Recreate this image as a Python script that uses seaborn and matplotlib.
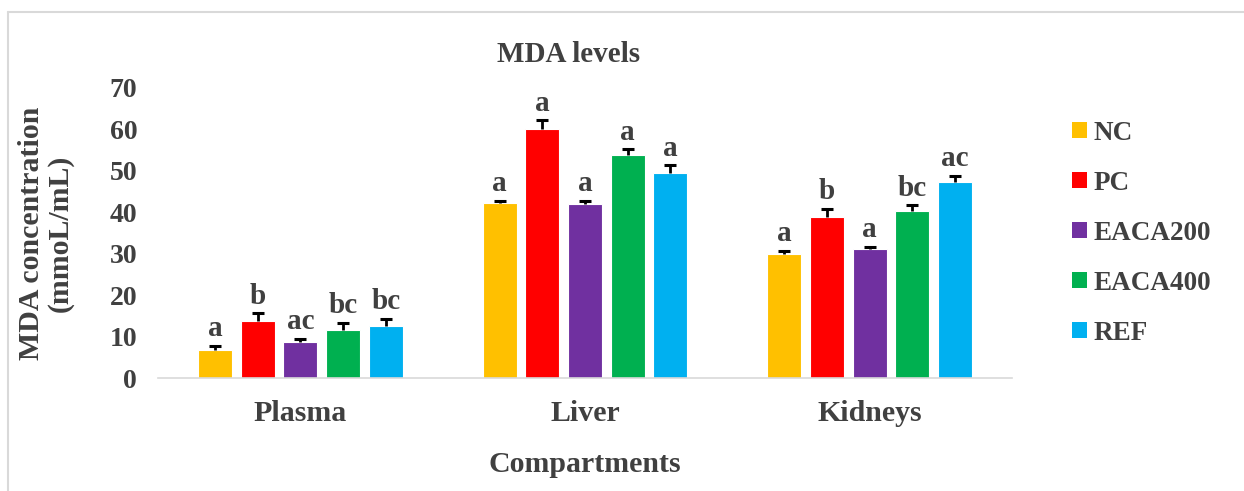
import numpy as np
import pandas as pd
import matplotlib
matplotlib.use("Agg")
import matplotlib.pyplot as plt
import seaborn as sns
from matplotlib.patches import Patch
from matplotlib.lines import Line2D

# ------------------------------
# DATA
# ------------------------------

compartments = ["Plasma", "Liver", "Kidneys"]
groups = ["NC", "PC", "EACA200", "EACA400", "REF"]
colors = ["#FFC000", "#FF0000", "#7030A0", "#00B050", "#00B0F0"]

# mean values per group, in order of compartments
nc = [6.8, 42.2, 30.0]
pc = [13.8, 60.2, 38.9]
eaca200 = [8.7, 41.9, 31.1]
eaca400 = [11.6, 53.9, 40.4]
ref = [12.6, 49.6, 47.2]

# error (upper only)
nc_err = [0.9, 0.5, 0.7]
pc_err = [1.8, 2.0, 1.9]
eaca200_err = [0.7, 0.8, 0.6]
eaca400_err = [1.8, 1.3, 1.3]
ref_err = [1.7, 1.7, 1.6]

# significance letters
nc_lab = ["a", "a", "a"]
pc_lab = ["b", "a", "b"]
eaca200_lab = ["ac", "a", "a"]
eaca400_lab = ["bc", "a", "bc"]
ref_lab = ["bc", "a", "ac"]

values = [nc, pc, eaca200, eaca400, ref]
errors = [nc_err, pc_err, eaca200_err, eaca400_err, ref_err]
letters = [nc_lab, pc_lab, eaca200_lab, eaca400_lab, ref_lab]

rows = []
for g, vals, errs, labs in zip(groups, values, errors, letters):
    for c, v, e, l in zip(compartments, vals, errs, labs):
        rows.append({"Compartment": c, "Group": g, "Value": v, "Err": e, "Letter": l})
df = pd.DataFrame(rows)

# ------------------------------
# PLOT
# ------------------------------

sns.set_style("white")
plt.rcParams["font.family"] = ["Liberation Serif", "DejaVu Serif"]
plt.rcParams["font.weight"] = "bold"
text_col = "#404040"

fig = plt.figure(figsize=(12.44, 4.91), dpi=100)
ax = fig.add_axes([0.127, 0.2301, 0.6865, 0.5907])

sns.barplot(
    data=df,
    x="Compartment",
    y="Value",
    hue="Group",
    order=compartments,
    hue_order=groups,
    palette=colors,
    saturation=1,
    width=0.75,
    gap=0.2,
    edgecolor="white",
    linewidth=0.8,
    errorbar=None,
    legend=False,
    ax=ax
)

# upper error bars + letters, placed from the bar positions
for gi, g in enumerate(groups):
    container = ax.containers[gi]
    for ci, bar in enumerate(container):
        x = bar.get_x() + bar.get_width() / 2
        h = bar.get_height()
        e = errors[gi][ci]
        ax.vlines(x, h, h + e, color="black", linewidth=2)
        ax.plot([x], [h + e], marker="_", markersize=8, mew=2.2, color="black")
        ax.annotate(
            letters[gi][ci],
            (x, h + e),
            xytext=(0, 7),
            textcoords="offset points",
            ha="center", va="baseline",
            fontsize=21, fontweight="bold", color=text_col
        )

ax.set_ylim(0, 70)
ax.set_yticks(range(0, 71, 10))
ax.set_xlim(-0.5, 2.5)

for s in ["top", "right", "left"]:
    ax.spines[s].set_visible(False)
ax.spines["bottom"].set_color("#d9d9d9")
ax.spines["bottom"].set_linewidth(1.2)

ax.tick_params(axis="y", length=0, labelsize=20, colors=text_col, pad=15)
ax.tick_params(axis="x", length=0, labelsize=21.5, colors=text_col, pad=16)
for lab in ax.get_xticklabels() + ax.get_yticklabels():
    lab.set_fontweight("bold")

ax.set_xlabel("Compartments", fontsize=21.5, fontweight="bold", color=text_col, labelpad=17)
ax.set_ylabel("MDA concentration\n(mmoL/mL)", fontsize=21.5, fontweight="bold",
              color=text_col, labelpad=26, linespacing=1.05)

fig.text(0.457, 1 - 54 / 491, "MDA levels", ha="center", va="center",
         fontsize=21, fontweight="bold", color=text_col)

# legend
handles = [Patch(facecolor=c, edgecolor="none") for c in colors]
leg = fig.legend(
    handles, groups,
    loc="center left",
    bbox_to_anchor=(0.842, 0.525),
    frameon=False,
    prop={"size": 19.5, "weight": "bold"},
    handlelength=0.55, handleheight=0.55,
    handletextpad=0.25,
    labelspacing=0.92
)
for t in leg.get_texts():
    t.set_color(text_col)

# chart area border (top and left)
fig.add_artist(Line2D([8 / 1244, 1.0], [1 - 12 / 491, 1 - 12 / 491],
                      transform=fig.transFigure, color="#d9d9d9", linewidth=1.5))
fig.add_artist(Line2D([8 / 1244, 8 / 1244], [0.0, 1 - 12 / 491],
                      transform=fig.transFigure, color="#d9d9d9", linewidth=1.5))

fig.savefig("out.png", dpi=100)
